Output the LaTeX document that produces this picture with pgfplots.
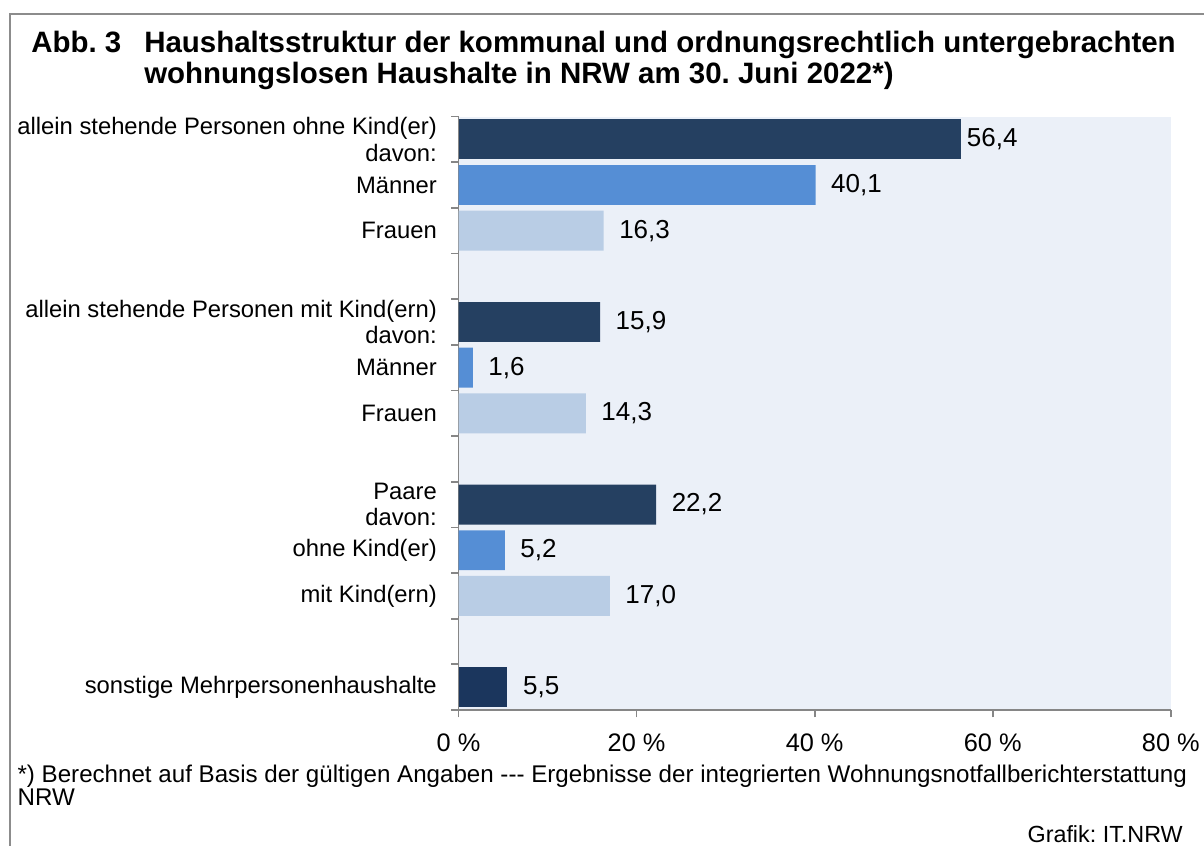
\documentclass[border=0pt]{standalone}
\usepackage{fontspec}
\setmainfont{Liberation Sans}
\usepackage{pgfplots}
\pgfplotsset{compat=1.18}
\frenchspacing
\definecolor{navy}{HTML}{254061}
\definecolor{navyb}{HTML}{1B365D}
\definecolor{midb}{HTML}{558ED5}
\definecolor{lightb}{HTML}{B9CDE5}
\definecolor{bgc}{HTML}{EBF0F8}
\definecolor{axg}{HTML}{868686}
\definecolor{frameg}{HTML}{8C8C8C}
\tikzset{
  catlbl/.style={anchor=east, align=right, inner sep=0pt, xshift=-16.1pt, font=\fontsize{17.85}{20}\selectfont},
  titl/.style={anchor=base west, inner sep=0pt, font=\fontsize{22.1}{24}\selectfont\bfseries},
  foot/.style={anchor=base west, inner sep=0pt, font=\fontsize{18.1}{19}\selectfont},
}
\begin{document}
\begin{tikzpicture}[x=1pt,y=1pt]
\path[use as bounding box] (0,0) rectangle (903,-634.5);
\draw[frameg, line width=1.5pt] (903,-10.5) -- (7.5,-10.5) -- (7.5,-634.5);
\node[titl] at (23.3,-39) {Abb.\ 3};
\node[titl] at (108,-39) {Haushaltsstruktur der kommunal und ordnungsrechtlich untergebrachten};
\node[titl] at (108,-62.25) {wohnungslosen Haushalte in NRW am 30.\ Juni 2022*)};
\node[foot] at (13,-586.5) {*) Berechnet auf Basis der gültigen Angaben {-}{-}{-} Ergebnisse der integrierten Wohnungsnotfallberichterstattung};
\node[foot] at (13,-604) {NRW};
\node[anchor=base east, inner sep=0pt, font=\fontsize{17.5}{19}\selectfont] at (887.25,-631.5) {Grafik: IT.NRW};
\begin{axis}[
  at={(343.9pt,-87.4pt)}, anchor=north west,
  scale only axis, width=534.2pt, height=445.1pt,
  xmin=0, xmax=80, ymin=-0.5, ymax=12.5, y dir=reverse,
  axis x line*=bottom, axis y line*=left,
  axis line style={axg, line width=1.3pt, -},
  axis background/.style={fill=bgc},
  xtick={0,20,40,60,80},
  xticklabels={0 \%,20 \%,40 \%,60 \%,80 \%},
  ytick={-0.5,0.5,...,12.5}, yticklabels={},
  tick align=outside, major tick length=5.6pt,
  tick style={axg, line width=1.3pt},
  xticklabel style={font=\fontsize{19}{20}\selectfont, inner sep=0pt, yshift=-12pt},
  clip=false,
  xbar, bar width=0.875,
  point meta=x,
  /pgf/number format/use comma,
  /pgf/number format/fixed,
  /pgf/number format/fixed zerofill,
  /pgf/number format/precision=1,
  /pgf/number format/assume math mode=true,
  every node near coord/.append style={anchor=west, inner sep=0pt, xshift=11.5pt, text=black, font=\fontsize{19.5}{22}\selectfont},
]
\addplot[xbar, bar shift=0pt, fill=navy, draw=none, nodes near coords,
  every node near coord/.append style={xshift=-7pt}] coordinates {(56.4,0)};
\addplot[xbar, bar shift=0pt, fill=navy, draw=none, nodes near coords] coordinates {(15.9,4) (22.2,8)};
\addplot[xbar, bar shift=0pt, fill=navyb, draw=none, nodes near coords] coordinates {(5.5,12)};
\addplot[xbar, bar shift=0pt, fill=midb, draw=none, nodes near coords] coordinates {(40.1,1) (1.6,5) (5.2,9)};
\addplot[xbar, bar shift=0pt, fill=lightb, draw=none, nodes near coords] coordinates {(16.3,2) (14.3,6) (17.0,10)};
\node[catlbl] at (axis cs:0,0) {allein stehende Personen ohne Kind(er)\\davon:};
\node[catlbl] at (axis cs:0,1) {Männer};
\node[catlbl] at (axis cs:0,2) {Frauen};
\node[catlbl] at (axis cs:0,4) {allein stehende Personen mit Kind(ern)\\davon:};
\node[catlbl] at (axis cs:0,5) {Männer};
\node[catlbl] at (axis cs:0,6) {Frauen};
\node[catlbl] at (axis cs:0,8) {Paare \\davon:};
\node[catlbl] at (axis cs:0,9) {ohne Kind(er)};
\node[catlbl] at (axis cs:0,10) {mit Kind(ern)};
\node[catlbl] at (axis cs:0,12) {sonstige Mehrpersonenhaushalte};
\end{axis}
\end{tikzpicture}
\end{document}
